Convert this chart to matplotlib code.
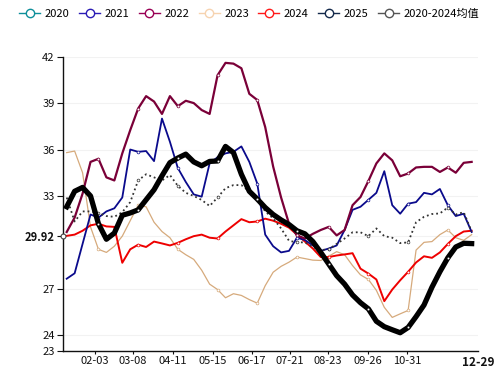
import matplotlib
matplotlib.use("Agg")
import matplotlib.pyplot as plt
from matplotlib.lines import Line2D
import numpy as np

plt.rcParams['font.family'] = ['Noto Sans CJK SC', 'DejaVu Sans']

# weekly index positions (week 0 .. 51)
weeks = list(range(52))

s2020 = [np.nan] * 52
s2021 = [27.65, 28.0, 29.9, 31.8, 31.6, 32.0, 32.2, 32.9, 36.0, 35.85,
         35.9, 35.25, 38.0, 36.5, 34.8, 33.9, 33.1, 32.95, 35.1, 35.5,
         35.75, 35.85, 36.2, 35.2, 33.8, 30.5, 29.75, 29.35, 29.45, 30.3,
         30.15, 29.8, 29.45, 29.6, 29.8, 30.8, 32.1, 32.3, 32.75, 33.2,
         34.6, 32.4, 31.85, 32.5, 32.6, 33.2, 33.1, 33.45, 32.4, 31.7,
         31.85, 30.67]
s2022 = [30.67, 31.6, 33.15, 35.2, 35.4, 34.2, 34.0, 35.75, 37.25, 38.65,
         39.45, 39.1, 38.3, 39.45, 38.8, 39.15, 39.0, 38.55, 38.3, 40.8,
         41.6, 41.55, 41.25, 39.6, 39.2, 37.45, 34.9, 32.9, 31.2, 30.45,
         30.25, 30.55, 30.8, 31.0, 30.45, 30.8, 32.4, 32.93, 33.97, 35.1,
         35.75, 35.3, 34.27, 34.45, 34.84, 34.88, 34.88, 34.55, 34.84, 34.5,
         35.14, 35.2]
s2023 = [35.8, 35.9, 34.5, 31.0, 29.55, 29.35, 29.75, 30.4, 31.4, 32.4,
         32.3, 31.3, 30.7, 30.3, 29.55, 29.2, 28.9, 28.2, 27.3, 26.95,
         26.42, 26.68, 26.57, 26.3, 26.07, 27.2, 28.07, 28.45, 28.72, 29.05,
         28.95, 28.85, 28.83, 29.1, 29.4, 29.2, 28.5, 27.9, 27.6, 26.9,
         25.8, 25.15, 25.38, 25.6, 29.5, 30.0, 30.05, 30.5, 30.8, 30.3,
         30.13, 30.5]
s2024 = [30.42, 30.5, 30.75, 31.1, 31.2, 31.03, 31.0, 28.68, 29.55, 29.85,
         29.7, 30.05, 29.93, 29.8, 29.97, 30.2, 30.4, 30.5, 30.3, 30.25,
         30.7, 31.1, 31.5, 31.3, 31.35, 31.53, 31.4, 31.2, 30.95, 30.5,
         30.05, 29.6, 29.05, 29.05, 29.15, 29.22, 29.3, 28.3, 27.98, 27.6,
         26.2, 26.95, 27.55, 28.1, 28.7, 29.1, 29.0, 29.35, 29.9, 30.4,
         30.7, 30.75]
s2025 = [32.3, 33.3, 33.55, 33.0, 31.2, 30.2, 30.6, 31.75, 31.9, 32.1,
         32.75, 33.4, 34.3, 35.15, 35.45, 35.7, 35.2, 34.95, 35.23, 35.26,
         36.2, 35.8, 34.4, 33.3, 32.8, 32.25, 31.8, 31.45, 31.15, 30.75,
         30.55, 30.05, 29.35, 28.6, 27.85, 27.3, 26.6, 26.1, 25.7, 24.9,
         24.55, 24.35, 24.16, 24.5, 25.2, 25.95, 27.1, 28.1, 29.0, 29.7,
         29.94, 29.92]
s_avg = [32.9, 31.35, 32.0, 32.0, 31.9, 31.7, 31.65, 31.95, 32.6, 34.0,
         34.4, 34.2, 34.0, 34.35, 33.65, 33.2, 33.0, 32.74, 32.35, 32.9,
         33.5, 33.7, 33.7, 33.3, 32.8, 32.0, 31.55, 30.9, 30.1, 30.0,
         30.0, 29.7, 29.5, 29.55, 29.9, 30.25, 30.65, 30.65, 30.4, 30.9,
         30.4, 30.3, 29.95, 30.0, 31.3, 31.65, 31.83, 31.87, 32.25, 31.8,
         31.95, 30.7]

series_names = ['2020', '2021', '2022', '2023', '2024', '2025', '2020-2024均值']
series_data = [s2020, s2021, s2022, s2023, s2024, s2025, s_avg]
line_colors = ['#0e8f9a', '#0a0a8c', '#7a0038', '#d6aa7c', '#ee0000', '#000000', '#333333']
legend_colors = ['#0e8f9a', '#2a1bb5', '#990055', '#f6d3b0', '#ff1a1a', '#13294b', '#555555']
line_widths = [1.3, 1.3, 1.6, 0.9, 1.4, 3.8, 1.3]
line_styles = ['-', '-', '-', '-', '-', '-', ':']

x_tick_pos = [3.56, 8.35, 13.39, 18.43, 23.34, 28.13, 32.9, 37.95, 42.86, 51.8]
x_tick_labels = ['02-03', '03-08', '04-11', '05-15', '06-17', '07-21', '08-23',
                 '09-26', '10-31', '12-29']
y_tick_pos = [23, 24, 27, 30.4, 33, 36, 39, 42]
y_tick_labels = ['23', '24', '27', '29.92', '33', '36', '39', '42']

fig = plt.figure(figsize=(5.03, 3.68), dpi=100)
ax = fig.add_axes([63 / 503, (368 - 350.67) / 368, (478 - 63) / 503, (350.67 - 56.67) / 368])

mark_idx = [4, 9, 14, 19, 24, 29, 33, 38, 43, 48]
order = [3, 4, 1, 2, 6, 5, 0]
for k in order:
    ax.plot(weeks, series_data[k], color=line_colors[k], lw=line_widths[k],
            ls=line_styles[k], marker='o', markevery=mark_idx, markersize=2.0,
            markerfacecolor='white', markeredgecolor=line_colors[k],
            markeredgewidth=0.5, zorder=3 + (2 if k == 5 else 0),
            solid_joinstyle='round', clip_on=False)

ax.set_xlim(-0.466, 51.8)
ax.set_ylim(23, 42)
ax.set_yticks(y_tick_pos)
ax.set_yticklabels(y_tick_labels)
ax.set_xticks(x_tick_pos)
ax.set_xticklabels(x_tick_labels)
for lab in ax.get_yticklabels():
    lab.set_fontsize(8)
    if lab.get_text() == '29.92':
        lab.set_fontweight('bold')
for lab in ax.get_xticklabels():
    lab.set_fontsize(8)
    if lab.get_text() == '12-29':
        lab.set_fontweight('bold')
        lab.set_fontsize(8.5)
ax.tick_params(axis='y', length=4, width=0.8, pad=2, colors='#111111')
ax.tick_params(axis='x', length=2.5, width=0.8, pad=1, colors='#111111')
for t in ax.xaxis.get_major_ticks():
    t.tick1line.set_visible(t.label1.get_text() != '12-29')

ax.grid(axis='y', color='#f2f2f2', lw=0.8, zorder=0)
for sp in ['top', 'right']:
    ax.spines[sp].set_visible(False)
for sp in ['left', 'bottom']:
    ax.spines[sp].set_color('#111111')
    ax.spines[sp].set_linewidth(1.0)

# marker at the highlighted y tick
ax.plot([-0.466], [30.4], marker='o', markersize=3.5, markerfacecolor='white',
        markeredgecolor='#444444', markeredgewidth=0.8, clip_on=False, zorder=6)

handles = [Line2D([0], [0], color=c, lw=1.0, marker='o', markersize=6,
                  markerfacecolor='white', markeredgecolor=c, markeredgewidth=1.0)
           for c in legend_colors]
fig.legend(handles, series_names, loc='upper left', bbox_to_anchor=(0.025, 0.995),
           ncol=7, frameon=False, fontsize=8, handlelength=1.9, handletextpad=0.4,
           columnspacing=0.85, borderaxespad=0.2)

fig.savefig('out.png', dpi=100)
